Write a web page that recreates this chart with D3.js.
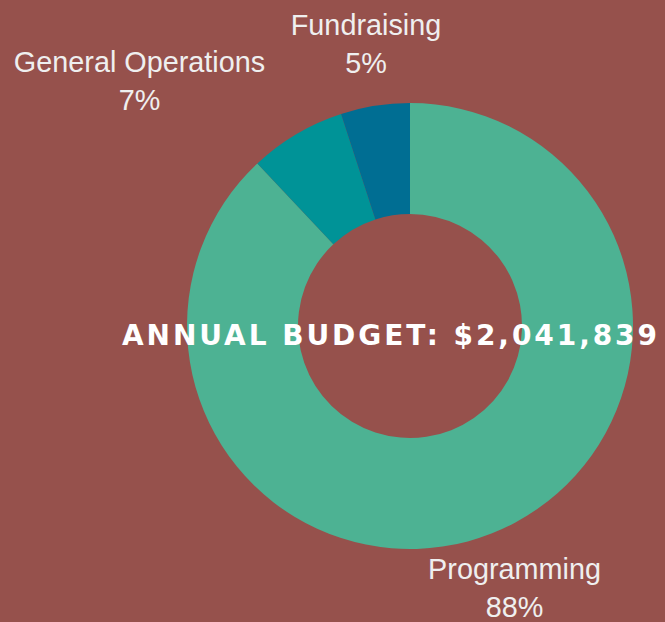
<!DOCTYPE html>
<html>
<head>
<meta charset="utf-8">
<script src="https://cdn.jsdelivr.net/npm/d3@7"></script>
<style>
html,body{margin:0;padding:0;background:#96514C;}
svg{display:block;}
</style>
</head>
<body>
<svg id="chart" width="665" height="622"></svg>
<script>
const categories = ["Programming", "General Operations", "Fundraising"];
const values = [88, 7, 5];
const labels = ["88%", "7%", "5%"];
const colors = ["#4DB293", "#009397", "#006E93"];
const title = "ANNUAL BUDGET: $2,041,839";

const W = 665, H = 622;
const cx = 410, cy = 326, outerR = 223, innerR = 112;
// label anchor positions (layout)
const labelPos = [[514.5, 579], [139.5, 72], [366, 35]];
const lineGap = 38;

const svg = d3.select("#chart");
svg.append("rect").attr("width", W).attr("height", H).attr("fill", "#96514C");

const pie = d3.pie().sort(null).value(d => d)(values);
const arc = d3.arc().innerRadius(innerR).outerRadius(outerR);

const g = svg.append("g").attr("transform", `translate(${cx},${cy})`);
g.selectAll("path").data(pie).join("path")
  .attr("d", arc)
  .attr("fill", (d, i) => colors[i]);

const lg = svg.append("g")
  .attr("font-family", "'Liberation Sans', Arial, sans-serif")
  .attr("font-size", 28.8)
  .attr("fill", "#EFEFEF")
  .attr("text-anchor", "middle");
categories.forEach((c, i) => {
  const [x, y] = labelPos[i];
  lg.append("text").attr("x", x).attr("y", y).text(c);
  lg.append("text").attr("x", x).attr("y", y + lineGap).text(labels[i]);
});

svg.append("text")
  .attr("x", 122).attr("y", 345)
  .attr("font-family", "'DejaVu Sans', sans-serif")
  .attr("font-weight", "bold")
  .attr("font-size", 28)
  .attr("fill", "#FFFFFF")
  .attr("textLength", 535)
  .attr("lengthAdjust", "spacing")
  .text(title);
</script>
</body>
</html>
